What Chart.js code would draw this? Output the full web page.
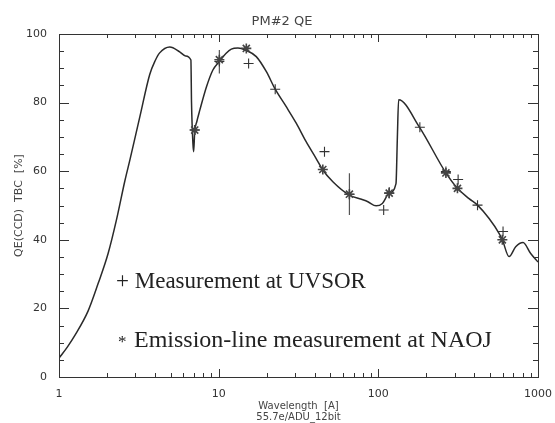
<!DOCTYPE html>
<html>
<head>
<meta charset="utf-8">
<script src="https://cdn.jsdelivr.net/npm/chart.js@4.4.1/dist/chart.umd.min.js"></script>
<style>
html,body{margin:0;padding:0;background:#fff;}
#c{display:block;}
</style>
</head>
<body>
<canvas id="c" width="555" height="423"></canvas>
<script>
// ---- data ----
const curveLambda = [1.0, 1.13, 1.26, 1.52, 1.76, 2.03, 2.29, 2.58, 2.78, 3.21, 3.7, 4.0, 4.27, 4.94, 5.7, 6.2, 6.7, 6.76, 6.9, 6.97, 7.08, 7.3, 7.62, 8.39, 9.2, 10.1, 11.1, 12.0, 13.2, 14.9, 17.2, 19.9, 22.6, 26.5, 30.6, 35.3, 40.8, 44.7, 51.9, 65.9, 78.4, 86, 96.8, 106, 117, 129, 131.6, 134, 180, 265, 313, 370, 418, 494, 570, 598, 659, 725, 806, 900, 1000];
const curveQE     = [5.5, 8.8, 12.2, 19.2, 27.3, 36.0, 45.8, 57.0, 63.3, 75.9, 88.2, 92.2, 94.5, 96.2, 94.8, 93.6, 92.4, 80.0, 68.0, 65.7, 71.5, 74.5, 77.8, 84.6, 89.5, 92.0, 94.3, 95.6, 95.9, 95.2, 93.4, 89.0, 83.9, 78.8, 74.0, 68.6, 63.7, 60.5, 56.9, 53.0, 51.8, 51.1, 49.9, 50.6, 53.6, 56.4, 70.0, 80.8, 73.0, 59.5, 55.0, 52.0, 50.1, 46.2, 41.9, 40.0, 35.1, 38.0, 39.2, 36.0, 33.5];

const uvsorLambda = [7.08, 10.1, 15.4, 22.6, 46, 65.9, 108, 117, 182, 265, 316, 418, 604];
const uvsorQE     = [72.0, 92.0, 91.4, 83.9, 65.7, 53.3, 48.7, 53.6, 72.8, 59.9, 57.6, 50.1, 42.4];

const naojLambda = [7.08, 10.1, 14.9, 44.9, 65.9, 117, 265, 313, 598];
const naojQE     = [72.0, 92.5, 95.8, 60.5, 53.3, 53.6, 59.5, 55.0, 40.0];

const errLambda = [7.08, 10.1, 65.9, 117];
const errLow    = [70.6, 88.5, 47.2, 52.2];
const errHigh   = [73.0, 95.3, 59.4, 55.4];

const xTickValues = [1, 10, 100, 1000];
const yTickValues = [0, 20, 40, 60, 80, 100];
const yMinorValues = [5,10,15,25,30,35,45,50,55,65,70,75,85,90,95];

const titleText = 'PM#2 QE';
const yTitle = 'QE(CCD)  TBC  [%]';
const xTitle1 = 'Wavelength  [A]';
const xTitle2 = '55.7e/ADU_12bit';
const legend1 = '+ Measurement at UVSOR';
const legend2 = 'Emission-line measurement at NAOJ';

// ---- build datasets ----
const curvePts = curveLambda.map((x, i) => ({x, y: curveQE[i]}));
const uvsorPts = uvsorLambda.map((x, i) => ({x, y: uvsorQE[i]}));
const naojPts = naojLambda.map((x, i) => ({x, y: naojQE[i]}));
const errPts = [];
errLambda.forEach((x, i) => { errPts.push({x, y: errLow[i]}, {x, y: errHigh[i]}, {x, y: null}); });

const ink = '#2a2a2a';

const framePlugin = {
  id: 'frame',
  afterDraw(chart) {
    const ctx = chart.ctx;
    const {left, right, top, bottom} = chart.chartArea;
    const xs = chart.scales.x, ys = chart.scales.y;
    ctx.save();
    ctx.strokeStyle = '#333';
    ctx.lineWidth = 1;
    ctx.strokeRect(Math.round(left) + 0.5, Math.round(top) + 0.5, Math.round(right - left), Math.round(bottom - top));
    ctx.beginPath();
    for (let d = 1; d < 1000; d *= 10) {
      for (let m = 1; m <= 9; m++) {
        const v = d * m;
        const px = Math.round(xs.getPixelForValue(v)) + 0.5;
        const len = (m === 1) ? 8 : 4;
        ctx.moveTo(px, bottom); ctx.lineTo(px, bottom - len);
        ctx.moveTo(px, top); ctx.lineTo(px, top + len);
      }
    }
    yTickValues.forEach(v => {
      const py = Math.round(ys.getPixelForValue(v)) + 0.5;
      ctx.moveTo(left, py); ctx.lineTo(left + 10, py);
      ctx.moveTo(right, py); ctx.lineTo(right - 10, py);
    });
    yMinorValues.forEach(v => {
      const py = Math.round(ys.getPixelForValue(v)) + 0.5;
      ctx.moveTo(left, py); ctx.lineTo(left + 5, py);
      ctx.moveTo(right, py); ctx.lineTo(right - 5, py);
    });
    ctx.stroke();

    ctx.fillStyle = '#444';
    ctx.textAlign = 'center';
    ctx.textBaseline = 'middle';
    ctx.font = '13px "DejaVu Sans"';
    ctx.fillText(titleText, 282, 22);
    ctx.font = '10px "DejaVu Sans"';
    ctx.fillText(xTitle1, (left + right) / 2, 406);
    ctx.fillText(xTitle2, (left + right) / 2, 417);
    ctx.save();
    ctx.translate(19, (top + bottom) / 2);
    ctx.rotate(-Math.PI / 2);
    ctx.font = '11px "DejaVu Sans"';
    ctx.fillText(yTitle, 0, 0);
    ctx.restore();

    ctx.fillStyle = '#222';
    ctx.textAlign = 'left';
    ctx.textBaseline = 'alphabetic';
    ctx.font = '23px "Liberation Serif"';
    ctx.fillText(legend1, 116, 288);
    ctx.font = '17px "Liberation Serif"';
    ctx.fillText('*', 118, 347);
    ctx.font = '24px "Liberation Serif"';
    ctx.fillText(legend2, 134, 347);
    ctx.restore();
  }
};

new Chart(document.getElementById('c'), {
  type: 'line',
  data: {
    datasets: [
      {
        label: 'QE model',
        data: curvePts,
        borderColor: ink,
        borderWidth: 1.5,
        pointRadius: 0,
        fill: false,
        cubicInterpolationMode: 'monotone',
        order: 3
      },
      {
        label: 'error bars',
        data: errPts,
        borderColor: '#555',
        borderWidth: 1.2,
        pointRadius: 0,
        spanGaps: false,
        fill: false,
        order: 2
      },
      {
        type: 'scatter',
        label: 'Measurement at UVSOR',
        data: uvsorPts,
        pointStyle: 'cross',
        pointRadius: 5,
        borderColor: '#333',
        borderWidth: 1.1,
        backgroundColor: '#333',
        order: 1
      },
      {
        type: 'scatter',
        label: 'Emission-line measurement at NAOJ',
        data: naojPts,
        pointStyle: 'star',
        pointRadius: 5,
        borderColor: '#444',
        borderWidth: 1.6,
        backgroundColor: '#444',
        order: 0
      }
    ]
  },
  options: {
    responsive: false,
    animation: false,
    layout: {padding: {left: 0, right: 16, top: 34, bottom: 0}},
    plugins: {legend: {display: false}, title: {display: false}, tooltip: {enabled: false}},
    scales: {
      x: {
        type: 'logarithmic',
        min: 1, max: 1000,
        grid: {display: false},
        border: {display: false},
        afterBuildTicks(scale) { scale.ticks = xTickValues.map(v => ({value: v})); },
        afterFit(scale) { scale.height = 46; },
        ticks: {
          autoSkip: false,
          maxRotation: 0,
          padding: 3,
          color: '#333',
          font: {family: 'DejaVu Sans', size: 11},
          callback: (v) => String(v)
        }
      },
      y: {
        min: 0, max: 100,
        grid: {display: false},
        border: {display: false},
        afterBuildTicks(scale) { scale.ticks = yTickValues.map(v => ({value: v})); },
        afterFit(scale) { scale.width = 59; },
        ticks: {
          padding: 4,
          color: '#333',
          font: {family: 'DejaVu Sans', size: 11}
        }
      }
    }
  },
  plugins: [framePlugin]
});
</script>
</body>
</html>
